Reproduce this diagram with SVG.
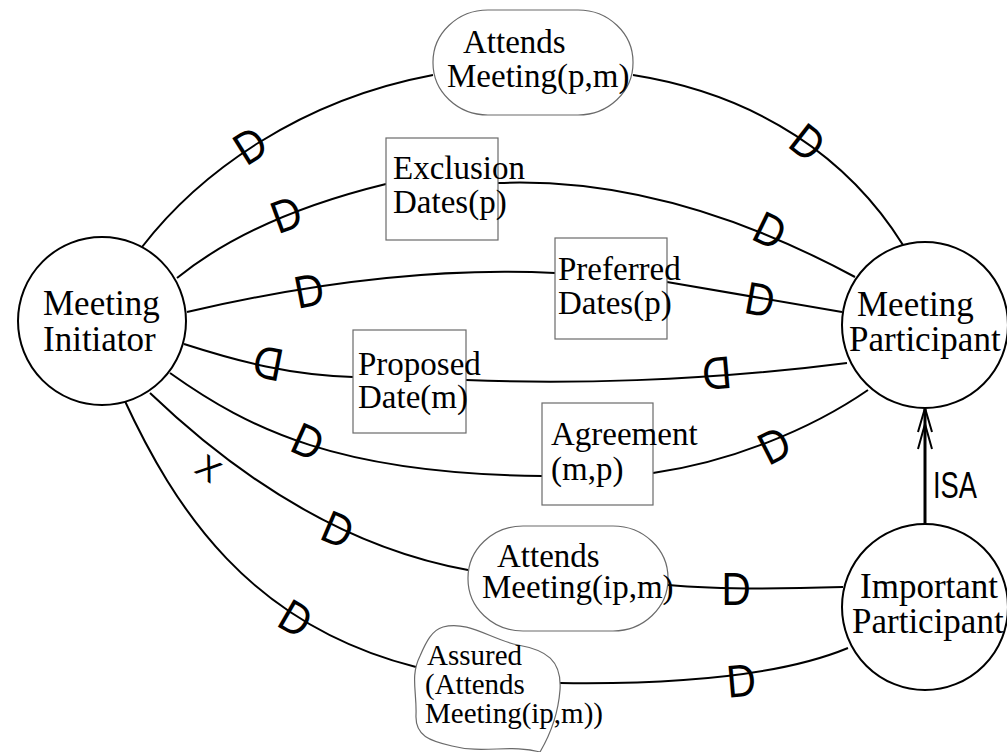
<svg xmlns="http://www.w3.org/2000/svg" width="1007" height="752" viewBox="0 0 1007 752">
<style>
  .bg{fill:#ffffff}
  .actor{fill:#ffffff;stroke:#000;stroke-width:2}
  .dep{fill:#ffffff;stroke:#6a6a6a;stroke-width:1.2}
  .ln{fill:none;stroke:#000;stroke-width:2}
  .t35{font-family:"Liberation Serif","Times New Roman",serif;font-size:35px;fill:#000}
  .t33{font-family:"Liberation Serif","Times New Roman",serif;font-size:33px;fill:#000}
  .t29{font-family:"Liberation Serif","Times New Roman",serif;font-size:29px;fill:#000}
  .d{font-family:"Liberation Sans",Arial,sans-serif;font-size:46px;fill:#000;text-anchor:middle}
  .x{font-family:"Liberation Sans",Arial,sans-serif;font-size:33px;fill:#000;text-anchor:middle}
  .isa{font-family:"Liberation Sans",Arial,sans-serif;font-size:36px;fill:#000}
</style>
<rect class="bg" x="0" y="0" width="1007" height="752"/>

<g id="connectors">
  <path class="ln" d="M142,247 C200,172 300,100 433,75"/>
  <path class="ln" d="M633,75 C760,95 850,160 903,245"/>
  <path class="ln" d="M177,278 C230,235 300,205 386,184"/>
  <path class="ln" d="M498,183 C620,178 740,215 855,277"/>
  <path class="ln" d="M187,312 C290,288 420,266 555,273"/>
  <path class="ln" d="M667,282 L842,312"/>
  <path class="ln" d="M184,344 C240,362 290,375 353,377"/>
  <path class="ln" d="M466,380 C560,384 700,382 847,363"/>
  <path class="ln" d="M170,373 C250,430 340,474 542,476"/>
  <path class="ln" d="M653,473 C730,462 810,430 868,390"/>
  <path class="ln" d="M150,393 C220,460 330,545 468,570"/>
  <path class="ln" d="M668,585 C720,590 780,589 843,587"/>
  <path class="ln" d="M123,397 C175,510 250,625 416,667"/>
  <path class="ln" d="M560,683 C700,685 790,672 848,648"/>
  <!-- D markers -->
  <g transform="translate(250,145) rotate(-32) scale(0.88,1)"><text class="d" x="0" y="16.5">D</text></g>
  <g transform="translate(808,142) rotate(38) scale(0.88,1)"><text class="d" x="0" y="16.5">D</text></g>
  <g transform="translate(286,214) rotate(-20) scale(0.88,1)"><text class="d" x="0" y="16.5">D</text></g>
  <g transform="translate(770,230) rotate(26) scale(0.88,1)"><text class="d" x="0" y="16.5">D</text></g>
  <g transform="translate(309,290) rotate(-11) scale(0.88,1)"><text class="d" x="0" y="16.5">D</text></g>
  <g transform="translate(760,299) rotate(10) scale(0.88,1)"><text class="d" x="0" y="16.5">D</text></g>
  <g transform="translate(268,364) rotate(191) scale(0.88,1)"><text class="d" x="0" y="16.5">D</text></g>
  <g transform="translate(717,374) rotate(175) scale(0.88,1)"><text class="d" x="0" y="16.5">D</text></g>
  <g transform="translate(308,441) rotate(24) scale(0.88,1)"><text class="d" x="0" y="16.5">D</text></g>
  <g transform="translate(774,445) rotate(-27) scale(0.88,1)"><text class="d" x="0" y="16.5">D</text></g>
  <g transform="translate(338,529) rotate(23) scale(0.88,1)"><text class="d" x="0" y="16.5">D</text></g>
  <g transform="translate(736,588) rotate(0) scale(0.88,1)"><text class="d" x="0" y="16.5">D</text></g>
  <g transform="translate(296,618) rotate(30) scale(0.88,1)"><text class="d" x="0" y="16.5">D</text></g>
  <g transform="translate(741,680) rotate(-5) scale(0.88,1)"><text class="d" x="0" y="16.5">D</text></g>
  <!-- X mark -->
  <g transform="translate(209,468) rotate(35)"><text class="x" x="0" y="12">X</text></g>
  <!-- ISA link -->
  <line x1="925" y1="524" x2="925" y2="409" stroke="#000" stroke-width="3"/>
  <polyline points="918,432 925,408 932,432" fill="none" stroke="#000" stroke-width="2"/>
  <polyline points="918,449 925,424 932,449" fill="none" stroke="#000" stroke-width="2"/>
  <text class="isa" x="933" y="498" textLength="44" lengthAdjust="spacingAndGlyphs">ISA</text>
</g>

<g id="meeting-initiator">
  <circle class="actor" cx="102" cy="321" r="84"/>
  <text class="t35" x="43" y="315">Meeting</text>
  <text class="t35" x="43" y="351">Initiator</text>
</g>

<g id="meeting-participant">
  <circle class="actor" cx="925" cy="325" r="83"/>
  <text class="t35" x="857" y="316">Meeting</text>
  <text class="t35" x="849" y="351">Participant</text>
</g>

<g id="important-participant">
  <circle class="actor" cx="925" cy="607" r="83"/>
  <text class="t35" x="860" y="598">Important</text>
  <text class="t35" x="852" y="633">Participant</text>
</g>

<g id="attends-meeting-pm">
  <rect class="dep" x="433" y="10" width="200" height="105" rx="55" ry="52"/>
  <text class="t33" x="463" y="53">Attends</text>
  <text class="t33" x="447" y="87">Meeting(p,m)</text>
</g>

<g id="exclusion-dates">
  <rect class="dep" x="386" y="138" width="112" height="102" fill="none"/>
  <text class="t33" x="393" y="179">Exclusion</text>
  <text class="t33" x="393" y="213">Dates(p)</text>
</g>

<g id="preferred-dates">
  <rect class="dep" x="555" y="238" width="112" height="101"/>
  <text class="t33" x="558" y="280">Preferred</text>
  <text class="t33" x="558" y="314">Dates(p)</text>
</g>

<g id="proposed-date">
  <rect class="dep" x="353" y="330" width="113" height="103"/>
  <text class="t33" x="358" y="375">Proposed</text>
  <text class="t33" x="358" y="408">Date(m)</text>
</g>

<g id="agreement">
  <rect class="dep" x="542" y="403" width="111" height="102"/>
  <text class="t33" x="551" y="445">Agreement</text>
  <text class="t33" x="551" y="480">(m,p)</text>
</g>

<g id="attends-meeting-ipm">
  <rect class="dep" x="468" y="526" width="200" height="105" rx="55" ry="52"/>
  <text class="t33" x="497" y="567">Attends</text>
  <text class="t33" x="482" y="598">Meeting(ip,m)</text>
</g>

<g id="assured-attends">
  <path class="dep" d="M443,627 C468,620 492,640 518,645 C546,650 562,660 560,690 C558,716 550,735 540,752 C512,744 482,754 452,746 C430,741 415,736 416,715 C417,692 410,676 420,656 C426,642 432,630 443,627 Z"/>
  <text class="t29" x="427" y="665">Assured</text>
  <text class="t29" x="425" y="694">(Attends</text>
  <text class="t29" x="425" y="723">Meeting(ip,m))</text>
</g>
</svg>
